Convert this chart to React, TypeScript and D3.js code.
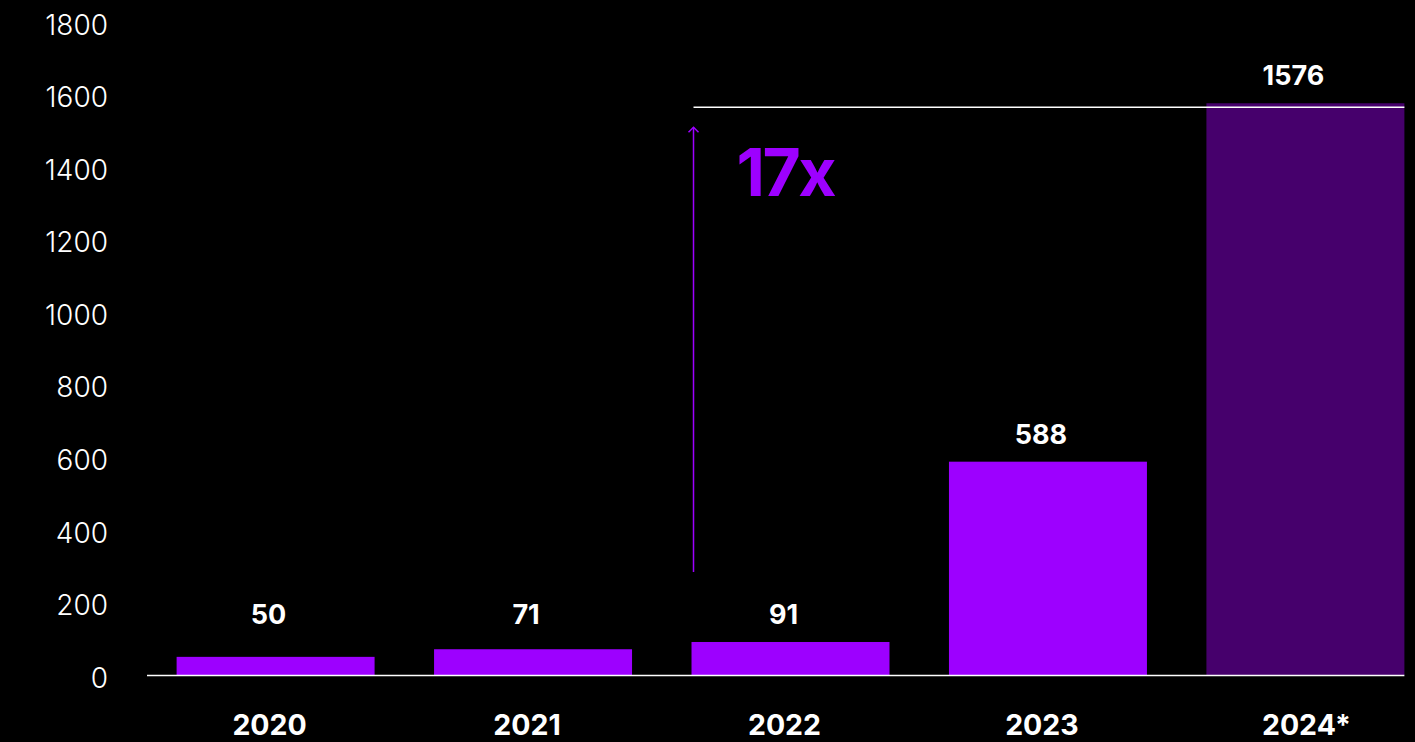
import React from "react";
import * as d3 from "d3";

const categories = ["2020", "2021", "2022", "2023", "2024*"];
const values = [50, 71, 91, 588, 1576];
const projected = [false, false, false, false, true];
const yTicks = [0, 200, 400, 600, 800, 1000, 1200, 1400, 1600, 1800];
const multiplierLabel = "17x";
const arrowFrom = 284;
const arrowTo = 1510;
const labelFloor = 91;

const W = 1415;
const H = 742;
const FONT = "Inter, 'Noto Sans', sans-serif";
const PURPLE = "#9d00ff";
const DARK = "#46006c";

export default function App() {
  const x = d3
    .scaleBand<string>()
    .domain(categories)
    .range([147, 1434])
    .paddingInner(0.231)
    .paddingOuter(0.115);
  const y = d3.scaleLinear().domain([0, 1800]).range([675, 22]);
  const bw = x.bandwidth();
  const lastRight = (x(categories[categories.length - 1]) as number) + bw;
  const x2022 = x("2022") as number;
  const ax = x2022 + 2;
  const topVal = values[values.length - 1];
  const refY = y(topVal) + 4;

  return (
    <div style={{ position: "fixed", left: 0, top: 0, width: W, height: H, background: "#000" }}>
      <svg width={W} height={H} style={{ display: "block", background: "#000" }}>
        {yTicks.map((t) => (
          <text
            key={t}
            x={108}
            y={y(t) + 5}
            textAnchor="end"
            dominantBaseline="middle"
            fill="#fff"
            fontFamily={FONT}
            fontSize={28}
            fontWeight={300}
          >
            {t}
          </text>
        ))}
        {categories.map((c, i) => {
          const bx = x(c) as number;
          const ly = Math.min(y(values[i]), y(labelFloor)) - 18;
          const starDx = c.endsWith("*") ? 7 : 0;
          const valDx = projected[i] ? -12 : -7;
          return (
            <g key={c}>
              <rect
                x={bx}
                y={y(values[i])}
                width={bw}
                height={y(0) - y(values[i])}
                fill={projected[i] ? DARK : PURPLE}
              />
              <text
                x={bx + bw / 2 + valDx}
                y={ly}
                textAnchor="middle"
                fill="#fff"
                fontFamily={FONT}
                fontSize={27}
                fontWeight={700}
              >
                {values[i]}
              </text>
              <text
                x={bx + bw / 2 - 6 + starDx}
                y={735}
                textAnchor="middle"
                fill="#fff"
                fontFamily={FONT}
                fontSize={28.5}
                fontWeight={700}
              >
                {c}
              </text>
            </g>
          );
        })}
        <line x1={147} x2={lastRight} y1={y(0) + 0.5} y2={y(0) + 0.5} stroke="#fff" strokeWidth={1.5} />
        <line x1={ax} x2={lastRight} y1={refY} y2={refY} stroke="#fff" strokeWidth={1.5} />
        <line x1={ax} x2={ax} y1={y(arrowFrom)} y2={y(arrowTo)} stroke={PURPLE} strokeWidth={1.5} />
        <path
          d={`M${ax - 5},${y(arrowTo) + 5} L${ax},${y(arrowTo)} L${ax + 5},${y(arrowTo) + 5}`}
          fill="none"
          stroke={PURPLE}
          strokeWidth={1.5}
        />
        <text
          x={ax + 43}
          y={196}
          fill={PURPLE}
          fontFamily={FONT}
          fontSize={66}
          fontWeight={700}
          letterSpacing={-2.5}
        >
          {multiplierLabel}
        </text>
      </svg>
    </div>
  );
}
